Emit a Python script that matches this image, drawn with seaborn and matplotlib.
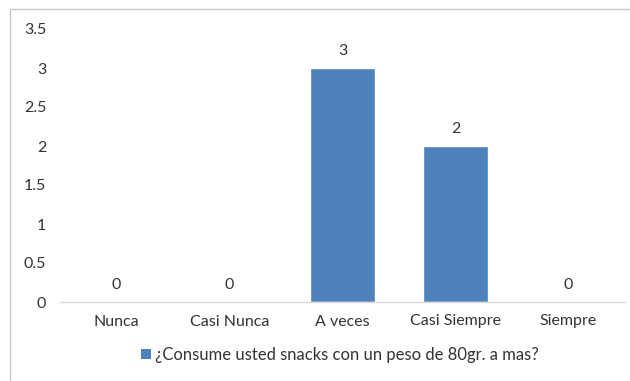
import matplotlib
matplotlib.use("Agg")
import matplotlib.pyplot as plt
from matplotlib.patches import Patch
import seaborn as sns
import pandas as pd

categories = ["Nunca", "Casi Nunca", "A veces", "Casi Siempre", "Siempre"]
values = [0, 0, 3, 2, 0]
y_ticks = [0, 0.5, 1, 1.5, 2, 2.5, 3, 3.5]
y_tick_labels = ["0", "0.5", "1", "1.5", "2", "2.5", "3", "3.5"]
series_name = "¿Consume usted snacks con un peso de 80gr. a mas?"

df = pd.DataFrame({"categoria": categories, "valor": values})

sns.set_theme(style="white")
plt.rcParams["font.family"] = ["Lato", "DejaVu Sans"]

bar_color = "#4f81bd"
text_color = "#333333"

fig = plt.figure(figsize=(6.3, 3.81), dpi=100)
ax = fig.add_axes([60 / 630, 1 - 302 / 381, 565 / 630, (302 - 29) / 381])

sns.barplot(data=df, x="categoria", y="valor", color=bar_color,
            width=0.57, saturation=1, ax=ax)

ax.set_ylim(0, 3.5)
ax.set_xlim(-0.5, len(categories) - 0.5)
ax.set_yticks(y_ticks)
ax.set_yticklabels(y_tick_labels)
ax.set_xlabel("")
ax.set_ylabel("")
ax.tick_params(axis="both", length=0, labelsize=11.5, colors=text_color)
ax.tick_params(axis="y", pad=10)
ax.tick_params(axis="x", pad=9)

for side in ["top", "right", "left"]:
    ax.spines[side].set_visible(False)
ax.spines["bottom"].set_color("#d9d9d9")
ax.spines["bottom"].set_linewidth(1)

for i, v in enumerate(values):
    ax.annotate(f"{v}", (i, v), xytext=(0, 7), textcoords="offset points",
                ha="center", va="bottom", fontsize=11.5, color=text_color)

handle = Patch(facecolor=bar_color, edgecolor="none")
fig.legend([handle], [series_name], loc="center", bbox_to_anchor=(340 / 630, 1 - 355 / 381),
           frameon=False, fontsize=12, handlelength=0.55, handleheight=0.55,
           handletextpad=0.25, labelcolor=text_color)

# light frame around the chart area (open at right and bottom)
fig.add_artist(plt.Line2D([10 / 630, 10 / 630], [0, 1 - 9 / 381],
                          transform=fig.transFigure, color="#c8c8c8", lw=1))
fig.add_artist(plt.Line2D([10 / 630, 1], [1 - 9 / 381, 1 - 9 / 381],
                          transform=fig.transFigure, color="#c8c8c8", lw=1))

fig.savefig("out.png", dpi=100, facecolor="white")
